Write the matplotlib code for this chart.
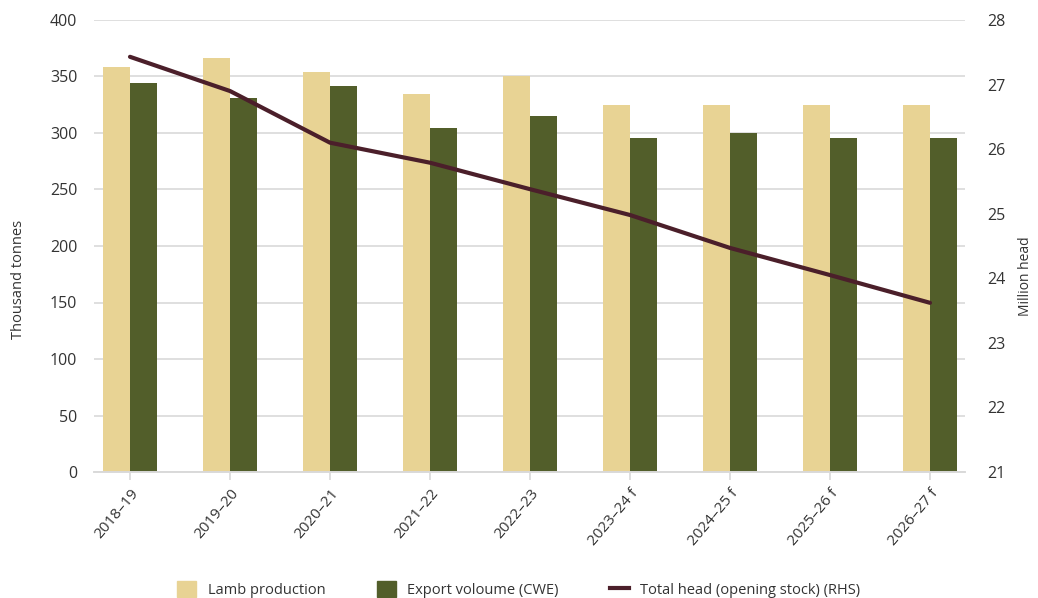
import matplotlib
matplotlib.use("Agg")
import matplotlib.pyplot as plt
import numpy as np
from matplotlib.patches import Patch
from matplotlib.lines import Line2D

plt.rcParams['font.family'] = ['Open Sans', 'DejaVu Sans']

# Data
years = ["2018–19", "2019–20", "2020–21", "2021–22", "2022–23",
         "2023–24 f", "2024–25 f", "2025–26 f", "2026–27 f"]
lamb_production = [358, 366, 354, 334.5, 350, 325, 325, 325, 325]
export_volume = [344, 331, 342, 304, 315, 296, 300, 296, 296]
total_head = [27.43, 26.9, 26.1, 25.79, 25.38, 24.98, 24.47, 24.05, 23.62]

beige = "#E8D394"
olive = "#525E2A"
maroon = "#4B1F2A"
txt = "#333333"

fig = plt.figure(figsize=(10.38, 5.98), dpi=100)
ax = fig.add_axes([94/1038, 1-472/598, (965-94)/1038, (472-20)/598])
ax2 = ax.twinx()

x = np.arange(len(years))
w = 0.27
ax.bar(x - w/2, lamb_production, w, color=beige, zorder=2)
ax.bar(x + w/2, export_volume, w, color=olive, zorder=2)

ax.set_ylim(0, 400)
ax.set_yticks(range(0, 401, 50))
ax.set_xlim(-0.36, 8.35)
ax.set_xticks(x)
ax.set_xticklabels(years, rotation=50, ha="right", rotation_mode="anchor")
ax.grid(axis="y", color="#D9D9D9", linewidth=1.2, zorder=0)
ax.set_axisbelow(True)

ax2.plot(x, total_head, color=maroon, linewidth=3, solid_capstyle="round", zorder=3)
ax2.set_ylim(21, 28)
ax2.set_yticks(range(21, 29))

for a in (ax, ax2):
    for s in ("top", "left", "right"):
        a.spines[s].set_visible(False)
    a.spines["bottom"].set_color("#D9D9D9")
    a.spines["bottom"].set_linewidth(1.2)
    a.tick_params(axis="y", length=0, labelsize=11.5, labelcolor=txt)
ax.tick_params(axis="y", pad=12)
ax2.tick_params(axis="y", pad=16)
ax.tick_params(axis="x", length=6, color="#D9D9D9", width=1.2, labelsize=11, labelcolor=txt, pad=4)

ax.set_ylabel("Thousand tonnes", fontsize=10.5, color=txt)
ax.yaxis.set_label_coords(-0.078, 0.425)
ax2.set_ylabel("Million head", fontsize=10, color=txt)
ax2.yaxis.set_label_coords(1.061, 0.433)

handles = [Patch(color=beige, label="Lamb production"),
           Patch(color=olive, label="Export voloume (CWE)"),
           Line2D([], [], color=maroon, linewidth=3, label="Total head (opening stock) (RHS)")]
fig.legend(handles=handles, loc="lower center", bbox_to_anchor=(0.5, -0.022), ncol=3,
           frameon=False, fontsize=10.5, handlelength=1.3, handleheight=1.3,
           columnspacing=3.5, labelcolor=txt)

fig.savefig("out.png", dpi=100)
